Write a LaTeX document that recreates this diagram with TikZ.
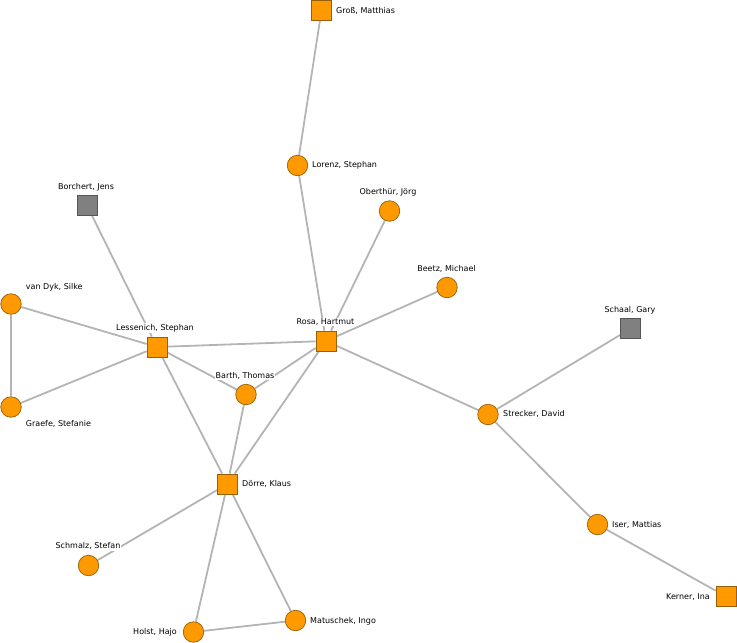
\documentclass[tikz,border=0pt]{standalone}
\usepackage{fontspec}
\setmainfont{DejaVu Sans}
\usetikzlibrary{backgrounds}
\definecolor{nodeorange}{RGB}{255,153,0}
\definecolor{orangeborder}{RGB}{150,95,10}
\definecolor{nodegray}{RGB}{128,128,128}
\definecolor{grayborder}{RGB}{85,85,85}
\definecolor{edgegray}{RGB}{180,180,180}
\begin{document}
\begin{tikzpicture}[x=1pt,y=-1pt,
  sq/.style={rectangle, draw=orangeborder, fill=nodeorange, minimum size=20pt, inner sep=0pt, line width=0.7pt},
  ci/.style={circle, draw=orangeborder, fill=nodeorange, minimum size=20.5pt, inner sep=0pt, line width=0.7pt},
  gsq/.style={sq, fill=nodegray, draw=grayborder},
  lbl/.style={font=\fontsize{8}{9.6}\selectfont, fill=white, inner sep=1pt, text=black},
  edge/.style={draw=edgegray, line width=1.8pt}]
\useasboundingbox (0,0) rectangle (737,643);
% nodes
\node[sq]  (gross)     at (321.5,10.5) {};
\node[ci]  (lorenz)    at (297.5,165.5) {};
\node[ci]  (oberthur)  at (389.5,211) {};
\node[gsq] (borchert)  at (87,205.5) {};
\node[ci]  (beetz)     at (447,287.5) {};
\node[ci]  (vandyk)    at (11,304) {};
\node[sq]  (lessenich) at (157,347) {};
\node[sq]  (rosa)      at (326,341) {};
\node[gsq] (schaal)    at (630.5,328.7) {};
\node[ci]  (barth)     at (246,394.5) {};
\node[ci]  (graefe)    at (11,407) {};
\node[ci]  (strecker)  at (488,414.5) {};
\node[sq]  (doerre)    at (227.5,484) {};
\node[ci]  (iser)      at (597.5,524.5) {};
\node[ci]  (schmalz)   at (88.5,565.5) {};
\node[sq]  (kerner)    at (726,596.5) {};
\node[ci]  (holst)     at (193.5,632) {};
\node[ci]  (matuschek) at (295.5,620.5) {};
% edges
\begin{pgfonlayer}{background}
\draw[edge] (gross) -- (lorenz);
\draw[edge] (lorenz) -- (rosa);
\draw[edge] (oberthur) -- (rosa);
\draw[edge] (beetz) -- (rosa);
\draw[edge] (rosa) -- (lessenich);
\draw[edge] (rosa) -- (barth);
\draw[edge] (rosa) -- (doerre);
\draw[edge] (rosa) -- (strecker);
\draw[edge] (borchert) -- (lessenich);
\draw[edge] (vandyk) -- (lessenich);
\draw[edge] (vandyk) -- (graefe);
\draw[edge] (graefe) -- (lessenich);
\draw[edge] (lessenich) -- (barth);
\draw[edge] (lessenich) -- (doerre);
\draw[edge] (barth) -- (doerre);
\draw[edge] (doerre) -- (schmalz);
\draw[edge] (doerre) -- (holst);
\draw[edge] (doerre) -- (matuschek);
\draw[edge] (holst) -- (matuschek);
\draw[edge] (schaal) -- (strecker);
\draw[edge] (strecker) -- (iser);
\draw[edge] (iser) -- (kerner);
\end{pgfonlayer}
% labels
\node[lbl, anchor=west] (lgross)     at (335,10.5) {Groß, Matthias};
\node[lbl, anchor=west] (llorenz)    at (311,165.5) {Lorenz, Stephan};
\node[lbl]              (loberthur)  at (388,192) {Oberthür, Jörg};
\node[lbl]              (lborchert)  at (86,187) {Borchert, Jens};
\node[lbl]              (lbeetz)     at (446.5,268.5) {Beetz, Michael};
\node[lbl, anchor=west] (lvandyk)    at (24.7,287.5) {van Dyk, Silke};
\node[lbl]              (llessenich) at (155,328) {Lessenich, Stephan};
\node[lbl]              (lrosa)      at (325.5,322) {Rosa, Hartmut};
\node[lbl]              (lschaal)    at (630,310.5) {Schaal, Gary};
\node[lbl]              (lbarth)     at (245,375.5) {Barth, Thomas};
\node[lbl, anchor=west] (lgraefe)    at (24.7,424) {Graefe, Stefanie};
\node[lbl, anchor=west] (lstrecker)  at (502,414) {Strecker, David};
\node[lbl, anchor=west] (ldoerre)    at (241,484) {Dörre, Klaus};
\node[lbl]              (lschmalz)   at (88,546) {Schmalz, Stefan};
\node[lbl, anchor=west] (liser)      at (611,524.5) {Iser, Mattias};
\node[lbl, anchor=east] (lkerner)    at (711,597) {Kerner, Ina};
\node[lbl, anchor=east] (lholst)     at (178,632) {Holst, Hajo};
\node[lbl, anchor=west] (lmatuschek) at (309,621) {Matuschek, Ingo};
\end{tikzpicture}
\end{document}
